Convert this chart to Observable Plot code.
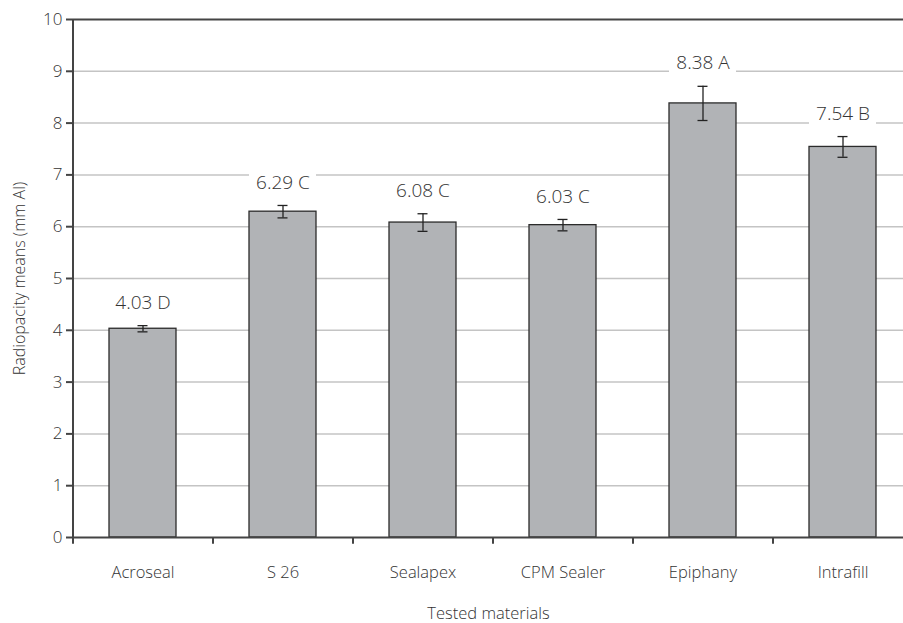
<!DOCTYPE html>
<html>
<head>
<meta charset="utf-8">
<script src="https://cdn.jsdelivr.net/npm/d3@7"></script>
<script src="https://cdn.jsdelivr.net/npm/@observablehq/plot@0.6"></script>
<style>
  html, body { margin: 0; padding: 0; background: #fff; }
  #chart svg { display: block; }
</style>
</head>
<body>
<div id="chart"></div>
<script>
const materials = ["Acroseal", "S 26", "Sealapex", "CPM Sealer", "Epiphany", "Intrafill"];
const means = [4.03, 6.29, 6.08, 6.03, 8.38, 7.54];
const errors = [0.06, 0.12, 0.17, 0.11, 0.33, 0.20];
const groups = ["D", "C", "C", "C", "A", "B"];
const yTicks = [0, 1, 2, 3, 4, 5, 6, 7, 8, 9, 10];

const data = materials.map((m, i) => ({
  material: m,
  mean: means[i],
  err: errors[i],
  label: `${means[i].toFixed(2)} ${groups[i]}`
}));

const font = "'Open Sans', Lato, sans-serif";
const ink = "#333";
const weight = 300;

const chart = Plot.plot({
  width: 903,
  height: 623,
  marginLeft: 73,
  marginRight: 0,
  marginTop: 19,
  marginBottom: 86,
  style: { fontFamily: font, fontSize: "16px", color: ink, background: "#fff", fontWeight: weight },
  x: { domain: materials, range: [73, 913], paddingInner: 0.52, paddingOuter: 0.26, label: null },
  y: { domain: [0, 10], label: null },
  marks: [
    Plot.gridY(yTicks.slice(1, -1), { stroke: "#c4c4c4", strokeOpacity: 1, strokeWidth: 1.5 }),
    Plot.ruleY([10], { stroke: "#444", strokeWidth: 2 }),
    Plot.barY(data, { x: "material", y: "mean", fill: "#b1b3b6", stroke: "#2b2b2b", strokeWidth: 1.3 }),
    Plot.ruleX(data, { x: "material", y1: d => d.mean - d.err, y2: d => d.mean + d.err, stroke: "#222", strokeWidth: 1.3 }),
    Plot.tickY(data, { x: "material", y: d => d.mean - d.err, stroke: "#222", strokeWidth: 1.3, inset: 28.5 }),
    Plot.tickY(data, { x: "material", y: d => d.mean + d.err, stroke: "#222", strokeWidth: 1.3, inset: 28.5 }),
    Plot.barY(data, { x: "material", y1: d => d.mean + d.err + 0.2, y2: d => d.mean + d.err + 0.64, fill: "#fff" }),
    Plot.text(data, { x: "material", y: d => d.mean + d.err, dy: -23, text: "label", fill: ink, fontSize: 19, fontWeight: weight, textAnchor: "middle", lineAnchor: "middle" }),
    Plot.ruleY([0], { stroke: "#444", strokeWidth: 2 }),
    Plot.ruleX(materials.slice(0, 1), { x: d => d, dx: -70, y1: -0.13, y2: 10, stroke: "#444", strokeWidth: 2 }),
    Plot.ruleX(materials.slice(1), { x: d => d, dx: -70, y1: -0.13, y2: 0, stroke: "#444", strokeWidth: 2 }),
    Plot.axisY(yTicks, { tickSize: 7, tickPadding: 4, tickFormat: d => String(d), stroke: "#444", strokeWidth: 2, fill: ink, fontSize: 17, fontWeight: weight, label: null }),
    Plot.axisX(materials, { tickSize: 0, tickPadding: 29, fill: ink, fontSize: 16.5, fontWeight: weight, label: null }),
    Plot.text(["Tested materials"], { frameAnchor: "bottom", dy: 76, text: d => d, fill: ink, fontSize: 16.5, fontWeight: weight, lineAnchor: "middle" }),
    Plot.text(["Radiopacity means (mm Al)"], { frameAnchor: "left", dx: -54, rotate: -90, text: d => d, fill: ink, fontSize: 16, fontWeight: weight, textAnchor: "middle", lineAnchor: "middle" })
  ]
});

document.getElementById("chart").appendChild(chart);
</script>
</body>
</html>
